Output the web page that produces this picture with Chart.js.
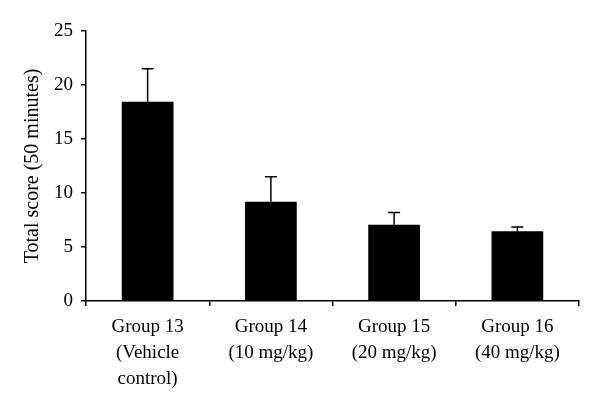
<!DOCTYPE html>
<html>
<head>
<meta charset="utf-8">
<script src="https://cdn.jsdelivr.net/npm/chart.js@4"></script>
<style>
  html, body { margin: 0; padding: 0; background: #fff; }
  #wrap { width: 600px; height: 409px; }
</style>
</head>
<body>
<div id="wrap"><canvas id="myGraph" width="600" height="409"></canvas></div>
<script>
// values
const groups = [
  ["Group 13", "(Vehicle", "control)"],
  ["Group 14", "(10 mg/kg)"],
  ["Group 15", "(20 mg/kg)"],
  ["Group 16", "(40 mg/kg)"]
];
const scores = [18.45, 9.2, 7.05, 6.45];
const errors = [3.05, 2.3, 1.15, 0.4];

const serif = "'Liberation Serif', 'DejaVu Serif', serif";

// draws the upper half of the error bars
const errorBars = {
  id: "errorBars",
  afterDatasetsDraw(chart) {
    const ctx = chart.ctx;
    const yScale = chart.scales.y;
    const meta = chart.getDatasetMeta(0);
    ctx.save();
    ctx.strokeStyle = "#000";
    ctx.lineWidth = 1.5;
    meta.data.forEach((bar, i) => {
      const top = yScale.getPixelForValue(scores[i] + errors[i]);
      ctx.beginPath();
      ctx.moveTo(bar.x, bar.y);
      ctx.lineTo(bar.x, top);
      ctx.moveTo(bar.x - 6, top);
      ctx.lineTo(bar.x + 6, top);
      ctx.stroke();
    });
    ctx.restore();
  }
};

new Chart(document.getElementById("myGraph"), {
  type: "bar",
  data: {
    labels: groups,
    datasets: [{
      data: scores,
      backgroundColor: "#000",
      borderWidth: 0,
      barPercentage: 0.42,
      categoryPercentage: 1.0
    }]
  },
  options: {
    responsive: false,
    animation: false,
    layout: { padding: { top: 31, right: 21, left: 0, bottom: 0 } },
    plugins: {
      legend: { display: false },
      tooltip: { enabled: false }
    },
    scales: {
      x: {
        afterFit: (scale) => { scale.height = 108; },
        border: { display: true, color: "#000", width: 1.5 },
        grid: {
          offset: true,
          drawOnChartArea: false,
          drawTicks: true,
          tickLength: 5,
          color: "#000",
          lineWidth: 1.5
        },
        ticks: {
          color: "#000",
          padding: 8,
          maxRotation: 0,
          autoSkip: false,
          font: { family: serif, size: 19, lineHeight: 1.37 }
        }
      },
      y: {
        min: 0,
        max: 25,
        afterFit: (scale) => { scale.width = 86; },
        border: { display: true, color: "#000", width: 1.5 },
        grid: {
          drawOnChartArea: false,
          drawTicks: true,
          tickLength: 5,
          color: "#000",
          lineWidth: 1.5
        },
        ticks: {
          stepSize: 5,
          color: "#000",
          padding: 8,
          font: { family: serif, size: 19 }
        },
        title: {
          display: true,
          text: "Total score (50 minutes)",
          color: "#000",
          padding: { top: 21, bottom: 0 },
          font: { family: serif, size: 20 }
        }
      }
    }
  },
  plugins: [errorBars]
});
</script>
</body>
</html>
